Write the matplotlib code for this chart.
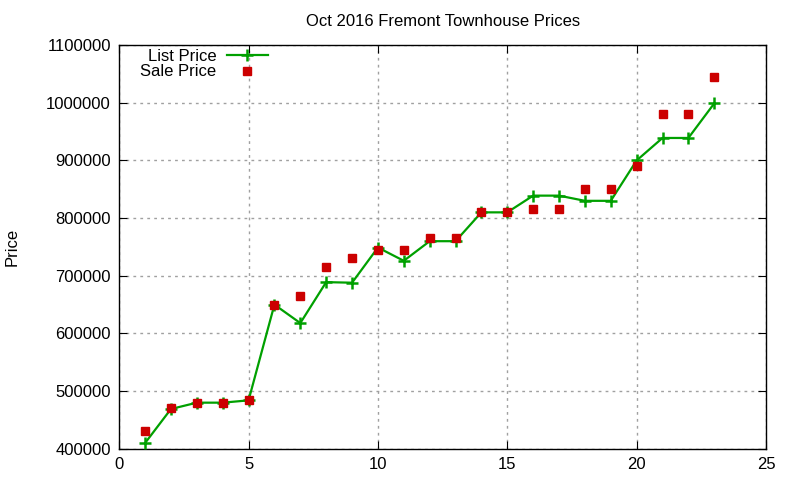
import numpy as np
import matplotlib.pyplot as plt

plt.rcParams['font.family'] = ['Liberation Sans', 'DejaVu Sans']

# listing index and prices
idx = [1, 2, 3, 4, 5, 6, 7, 8, 9, 10, 11, 12, 13, 14, 15, 16, 17, 18, 19, 20, 21, 22, 23]
list_price = [410000, 469000, 480000, 480000, 484000, 650000, 618000, 689000, 688000, 749000,
              726000, 760000, 760000, 810000, 810000, 839000, 839000, 830000, 830000, 900000,
              939000, 939000, 999000]
sale_price = [430000, 470000, 480000, 480000, 485000, 650000, 665000, 715000, 730000, 745000,
              745000, 765000, 765000, 810000, 810000, 815000, 815000, 850000, 850000, 890000,
              980000, 980000, 1045000]

fig = plt.figure(figsize=(8, 4.8), dpi=100)
ax = fig.add_axes([0.149, 0.065, 0.8085, 0.841])

ax.plot(idx, list_price, color='#00a000', lw=1.6, marker='+', ms=8, mew=1.8,
        label='List Price', zorder=3)
ax.plot(idx, sale_price, ls='none', color='#cc0000', marker='s', ms=6,
        label='Sale Price', zorder=4)

ax.set_xlim(0, 25)
ax.set_ylim(400000, 1100000)
ax.set_xticks(np.arange(0, 26, 5))
ax.set_yticks(np.arange(400000, 1100001, 100000))
ax.ticklabel_format(style='plain', axis='y')
ax.tick_params(direction='in', top=True, right=True, length=6, labelsize=12, pad=6)
ax.grid(True, color='#a0a0a0', ls=(0, (2, 3)), lw=1)
for s in ax.spines.values():
    s.set_linewidth(1)

ax.set_title('Oct 2016 Fremont Townhouse Prices', fontsize=12, pad=14)
ax.set_ylabel('Price', fontsize=12, labelpad=19)

ax.legend(loc='upper left', frameon=False, markerfirst=False, fontsize=12,
          handlelength=2.5, borderaxespad=0.1, labelspacing=0.05, handletextpad=0.6,
          bbox_to_anchor=(0.02, 1.012))

fig.savefig('out.png', dpi=100)
